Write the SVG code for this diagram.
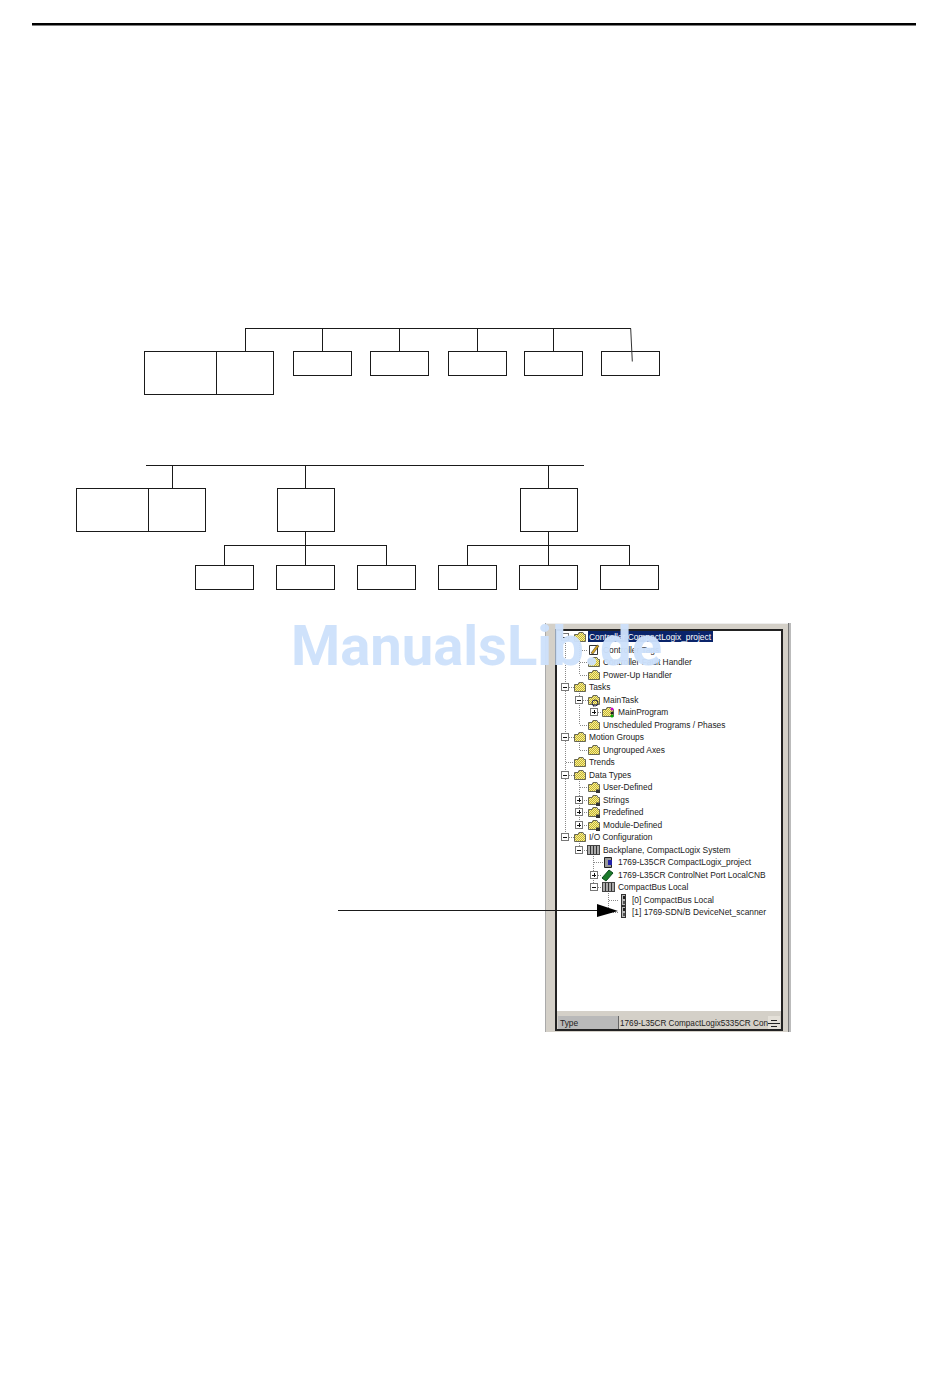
<svg xmlns="http://www.w3.org/2000/svg" width="950" height="1398" viewBox="0 0 950 1398">
<style>
.bx{fill:#fff;stroke:#1a1a1a;stroke-width:1;shape-rendering:crispEdges}
.ln{fill:none;stroke:#1a1a1a;stroke-width:1;shape-rendering:crispEdges}
.t{font-family:"Liberation Sans",Arial,sans-serif;font-size:8.4px;fill:#222}
.dot{fill:none;stroke:#888;stroke-width:1;stroke-dasharray:1 1;shape-rendering:crispEdges}
.exp{fill:#fff;stroke:#777;stroke-width:1;shape-rendering:crispEdges}
.sign{fill:none;stroke:#111;stroke-width:1;shape-rendering:crispEdges}
</style>
<defs>
<pattern id="dith" width="2" height="2" patternUnits="userSpaceOnUse"><rect width="2" height="2" fill="#f4ee9a"/><rect width="1" height="1" fill="#c9b52e"/><rect x="1" y="1" width="1" height="1" fill="#c9b52e"/></pattern>
<g id="folder"><path d="M0.5 2.500H4L5 0.500H9L10 2.500H11.500V9.500H0.500Z" fill="url(#dith)" stroke="#665" stroke-width="1"/></g>
<g id="dfolder"><use href="#folder"/><path d="M8 7l1 1 1-1 1 1 1-1v4H8Z" fill="#333"/></g>
<g id="mod"><rect x="2.500" y="-1.500" width="4" height="11" fill="#bbb" stroke="#333"/><rect x="4" y="0" width="2" height="3" fill="#222"/><rect x="4" y="5" width="2" height="3" fill="#555"/></g>
<g id="rack"><rect x="0.500" y="0.500" width="12" height="9" fill="#aaa" stroke="#444"/><path d="M3.500 1V9M6.500 1V9M9.500 1V9" stroke="#333"/></g>
<g id="minus"><rect class="exp" x="0.500" y="0.500" width="7" height="7"/><path class="sign" d="M2 4.500H6"/></g>
<g id="plus"><rect class="exp" x="0.500" y="0.500" width="7" height="7"/><path class="sign" d="M2 4.500H6M4.500 2V6"/></g>
</defs>
<rect width="950" height="1398" fill="#fff"/>
<rect id="top-rule" x="32" y="23" width="884" height="2.500" fill="#000"/>

<g id="node-a"><rect class="bx" x="144.500" y="351.500" width="129" height="43"/><path class="ln" d="M216.500 351.500V394.500"/></g>
<g id="node-a1"><rect class="bx" x="293.500" y="351.500" width="58" height="24"/></g>
<g id="node-a2"><rect class="bx" x="370.500" y="351.500" width="58" height="24"/></g>
<g id="node-a3"><rect class="bx" x="448.500" y="351.500" width="58" height="24"/></g>
<g id="node-a4"><rect class="bx" x="524.500" y="351.500" width="58" height="24"/></g>
<g id="node-a5"><rect class="bx" x="601.500" y="351.500" width="58" height="24"/></g>

<g id="node-b"><rect class="bx" x="76.500" y="488.500" width="129" height="43"/><path class="ln" d="M148.500 488.500V531.500"/></g>
<g id="node-c"><rect class="bx" x="277.500" y="488.500" width="57" height="43"/></g>
<g id="node-d"><rect class="bx" x="520.500" y="488.500" width="57" height="43"/></g>
<g id="node-c1"><rect class="bx" x="195.500" y="565.500" width="58" height="24"/></g>
<g id="node-c2"><rect class="bx" x="276.500" y="565.500" width="58" height="24"/></g>
<g id="node-c3"><rect class="bx" x="357.500" y="565.500" width="58" height="24"/></g>
<g id="node-d1"><rect class="bx" x="438.500" y="565.500" width="58" height="24"/></g>
<g id="node-d2"><rect class="bx" x="519.500" y="565.500" width="58" height="24"/></g>
<g id="node-d3"><rect class="bx" x="600.500" y="565.500" width="58" height="24"/></g>

<g id="connectors">
<path class="ln" d="M245.500 351V328.500H630.500M322.500 328.500V351M399.500 328.500V351M477.500 328.500V351M553.500 328.500V351"/>
<path d="M630.700 328.500L632.300 361.500" fill="none" stroke="#333" stroke-width="1"/>
<path class="ln" d="M146 465.500H584M172.500 465.500V488M305.500 465.500V488M548.500 465.500V488"/>
<path class="ln" d="M305.500 531V565M224.500 565V545.500H386.500V565"/>
<path class="ln" d="M548.500 531V565M467.500 565V545.500H629.500V565"/>
</g>

<g id="tree-window">
<rect x="545" y="623" width="246" height="409" fill="#d4d0c8"/>
<rect x="545" y="623" width="246" height="1" fill="#eee"/>
<rect x="545" y="623" width="1" height="409" fill="#aaa"/>
<rect x="788" y="623" width="1" height="409" fill="#777"/>
<rect x="789" y="623" width="2" height="409" fill="#bbb"/>
<rect x="556" y="630" width="226" height="400" fill="#fff" stroke="#222" stroke-width="2" shape-rendering="crispEdges"/>
<rect x="557" y="1011" width="224" height="18" fill="#d4d0c8"/>
<rect x="558" y="1016" width="60" height="13" fill="#b9b9b9"/>
<rect x="618" y="1016" width="1" height="13" fill="#666"/>
<rect x="768" y="1016" width="12" height="13" fill="#e4e0d8"/>
<path d="M771 1020.500H777M771 1026.500H777M768 1023.500H780" stroke="#222" stroke-width="1" fill="none" shape-rendering="crispEdges"/>
<text class="t" x="560" y="1026">Type</text>
<text class="t" x="620" y="1026" textLength="148" lengthAdjust="spacingAndGlyphs">1769-L35CR CompactLogix5335CR Con</text>

<path class="dot" d="M565.500 641V834M579.500 641V675M579.500 691V725M579.500 741V750M579.500 779V825M579.500 841V850M593.500 704V712M593.500 854V883M608.500 891V912M569 637H574M579.500 650H588M579.500 662H588M579.500 675H588M569 687H574M583 700H588M598 712H602M579.500 725H588M569 737H574M579.500 750H588M565.500 762H574M569 775H574M579.500 787H588M584 800H588M584 812H588M584 825H588M569 837H574M584 850H588M593.500 862H604M598 875H602M598 887H602M608.500 900H618M608.500 912H618"/>

<rect x="588" y="631" width="125" height="11" fill="#0a246a"/>
<g id="tree-icons">
<use href="#minus" x="561" y="633"/><use href="#folder" x="574" y="632"/>
<path d="M589.500 645.500h8v9h-8z" fill="#fff" stroke="#333"/><path d="M591 653l6-8 2 1-6 8z" fill="#d9a520" stroke="#222" stroke-width="0.500"/>
<use href="#folder" x="588" y="657"/><use href="#folder" x="588" y="670"/>
<use href="#minus" x="561" y="683"/><use href="#folder" x="574" y="682"/>
<use href="#minus" x="575" y="696"/><use href="#folder" x="588" y="695"/><circle cx="595" cy="703" r="3" fill="none" stroke="#224"/>
<use href="#plus" x="590" y="708"/><use href="#folder" x="602" y="707"/><circle cx="612" cy="709" r="1.500" fill="#c0c"/><circle cx="612" cy="713" r="1.500" fill="#222"/><circle cx="612" cy="716" r="1.500" fill="#0a0"/>
<use href="#folder" x="588" y="720"/>
<use href="#minus" x="561" y="733"/><use href="#folder" x="574" y="732"/>
<use href="#folder" x="588" y="745"/>
<use href="#folder" x="574" y="757"/>
<use href="#minus" x="561" y="771"/><use href="#folder" x="574" y="770"/>
<use href="#dfolder" x="588" y="782"/>
<use href="#plus" x="575" y="796"/><use href="#dfolder" x="588" y="795"/>
<use href="#plus" x="575" y="808"/><use href="#dfolder" x="588" y="807"/>
<use href="#plus" x="575" y="821"/><use href="#dfolder" x="588" y="820"/>
<use href="#minus" x="561" y="833"/><use href="#folder" x="574" y="832"/>
<use href="#minus" x="575" y="846"/><use href="#rack" x="587" y="845"/>
<path d="M604.500 857.500h7v10h-7z" fill="#999" stroke="#222"/><rect x="608" y="860" width="4" height="5" fill="#22a"/>
<use href="#plus" x="590" y="871"/><path d="M602 878l7-8 4 3-7 8z" fill="#1a7a2a" stroke="#0a4a1a"/>
<use href="#minus" x="590" y="883"/><use href="#rack" x="602" y="882"/>
<use href="#mod" x="619" y="896"/><use href="#mod" x="619" y="908"/>
</g>
<g id="tree-labels">
<text class="t" x="589" y="640" style="fill:#fff">Controller CompactLogix_project</text>
<text class="t" x="603" y="653">Controller Tags</text>
<text class="t" x="603" y="665">Controller Fault Handler</text>
<text class="t" x="603" y="678">Power-Up Handler</text>
<text class="t" x="589" y="690">Tasks</text>
<text class="t" x="603" y="703">MainTask</text>
<text class="t" x="618" y="715">MainProgram</text>
<text class="t" x="603" y="728">Unscheduled Programs / Phases</text>
<text class="t" x="589" y="740">Motion Groups</text>
<text class="t" x="603" y="753">Ungrouped Axes</text>
<text class="t" x="589" y="765">Trends</text>
<text class="t" x="589" y="778">Data Types</text>
<text class="t" x="603" y="790">User-Defined</text>
<text class="t" x="603" y="803">Strings</text>
<text class="t" x="603" y="815">Predefined</text>
<text class="t" x="603" y="828">Module-Defined</text>
<text class="t" x="589" y="840">I/O Configuration</text>
<text class="t" x="603" y="853">Backplane, CompactLogix System</text>
<text class="t" x="618" y="865">1769-L35CR CompactLogix_project</text>
<text class="t" x="618" y="878">1769-L35CR ControlNet Port LocalCNB</text>
<text class="t" x="618" y="890">CompactBus Local</text>
<text class="t" x="632" y="903">[0] CompactBus Local</text>
<text class="t" x="632" y="915">[1] 1769-SDN/B DeviceNet_scanner</text>
</g>
</g>

<g id="arrow">
<path class="ln" d="M338 910.500H600"/>
<path d="M597 904L618 911L597 917Z" fill="#000"/>
</g>

<text id="watermark" x="291" y="665" font-family="Roboto,'Liberation Sans',Arial,sans-serif" font-size="55" font-weight="700" fill="#cde1fb" fill-opacity="0.96" textLength="371" lengthAdjust="spacingAndGlyphs">ManualsLib.de</text>
</svg>
